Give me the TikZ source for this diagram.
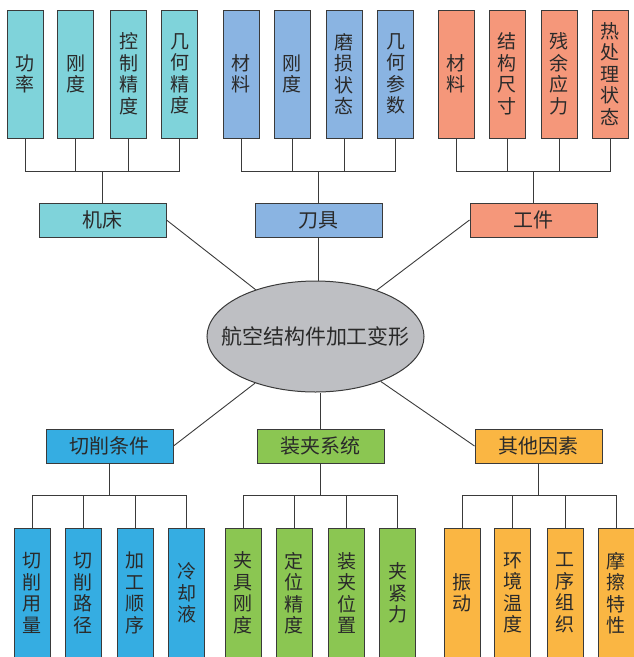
\documentclass[tikz,border=0pt]{standalone}
\usepackage{fontspec}
\newfontfamily\cjk{Noto Sans CJK SC}
\usetikzlibrary{shapes.geometric}
\definecolor{cA}{HTML}{7FD3DA}
\definecolor{cB}{HTML}{8AB4E2}
\definecolor{cC}{HTML}{F5977A}
\definecolor{cD}{HTML}{35ADE2}
\definecolor{cE}{HTML}{8BC652}
\definecolor{cF}{HTML}{FAB643}
\definecolor{cG}{HTML}{BEBFC3}
\definecolor{linec}{HTML}{3A3A3A}
\definecolor{txt}{HTML}{2A2A2A}
\begin{document}
\begin{tikzpicture}[x=1pt,y=-1pt,
  leaf/.style={draw=linec, line width=1pt, minimum width=36pt, inner sep=0pt, align=center,
    font=\cjk\fontsize{19}{21.5}\selectfont, text=txt},
  topleaf/.style={leaf, minimum height=128pt},
  botleaf/.style={leaf, minimum height=130pt},
  cat/.style={draw=linec, line width=1pt, minimum width=127pt, minimum height=34pt, inner sep=0pt,
    font=\cjk\fontsize{20}{20}\selectfont, text=txt},
  conn/.style={draw=linec, line width=0.9pt}]
\useasboundingbox (0,0) rectangle (633,657);

% center
\node[ellipse, draw=linec, line width=1pt, fill=cG, minimum width=217pt, minimum height=111pt,
  inner xsep=-20pt, inner ysep=0pt,
  font=\cjk\fontsize{21}{21}\selectfont, text=txt] (E) at (315.5,336.5) {航空结构件加工变形};

% categories
\node[cat, fill=cA] (jc) at (102.5,220) {机床};
\node[cat, fill=cB] (dj) at (318.5,220) {刀具};
\node[cat, fill=cC] (gj) at (533.5,220) {工件};
\node[cat, fill=cD] (qx) at (109.5,446) {切削条件};
\node[cat, fill=cE] (zj) at (320.5,446) {装夹系统};
\node[cat, fill=cF] (qt) at (538.5,446) {其他因素};

% top leaves
\node[topleaf, fill=cA] (a1) at (25,74) {功\\率};
\node[topleaf, fill=cA] (a2) at (75.5,74) {刚\\度};
\node[topleaf, fill=cA] (a3) at (128.5,74) {控\\制\\精\\度};
\node[topleaf, fill=cA] (a4) at (179.5,74) {几\\何\\精\\度};
\node[topleaf, fill=cB] (b1) at (241,74) {材\\料};
\node[topleaf, fill=cB] (b2) at (292,74) {刚\\度};
\node[topleaf, fill=cB] (b3) at (344,74) {磨\\损\\状\\态};
\node[topleaf, fill=cB] (b4) at (395.5,74) {几\\何\\参\\数};
\node[topleaf, fill=cC] (c1) at (456,74) {材\\料};
\node[topleaf, fill=cC] (c2) at (507,74) {结\\构\\尺\\寸};
\node[topleaf, fill=cC] (c3) at (559,74) {残\\余\\应\\力};
\node[topleaf, fill=cC] (c4) at (610,74) {热\\处\\理\\状\\态};

% bottom leaves
\node[botleaf, fill=cD] (d1) at (32,593) {切\\削\\用\\量};
\node[botleaf, fill=cD] (d2) at (83,593) {切\\削\\路\\径};
\node[botleaf, fill=cD] (d3) at (135,593) {加\\工\\顺\\序};
\node[botleaf, fill=cD] (d4) at (186.5,593) {冷\\却\\液};
\node[botleaf, fill=cE] (e1) at (243,593) {夹\\具\\刚\\度};
\node[botleaf, fill=cE] (e2) at (294,593) {定\\位\\精\\度};
\node[botleaf, fill=cE] (e3) at (346.5,593) {装\\夹\\位\\置};
\node[botleaf, fill=cE] (e4) at (397.5,593) {夹\\紧\\力};
\node[botleaf, fill=cF] (f1) at (462,593) {振\\动};
\node[botleaf, fill=cF] (f2) at (512.5,593) {环\\境\\温\\度};
\node[botleaf, fill=cF] (f3) at (565,593) {工\\序\\组\\织};
\node[botleaf, fill=cF] (f4) at (616,593) {摩\\擦\\特\\性};

% bus points
\coordinate (ja) at (102.5,171);
\coordinate (da) at (318.5,171);
\coordinate (ga) at (533.5,171);
\coordinate (qa) at (109.5,495);
\coordinate (za) at (320.5,495);
\coordinate (ta) at (538.5,495);

% tree connectors
\draw[conn] (jc.north) -- (ja);
\foreach \n in {a1,a2,a3,a4} \draw[conn] (\n.south) |- (ja);
\draw[conn] (dj.north) -- (da);
\foreach \n in {b1,b2,b3,b4} \draw[conn] (\n.south) |- (da);
\draw[conn] (gj.north) -- (ga);
\foreach \n in {c1,c2,c3,c4} \draw[conn] (\n.south) |- (ga);
\draw[conn] (qx.south) -- (qa);
\foreach \n in {d1,d2,d3,d4} \draw[conn] (\n.north) |- (qa);
\draw[conn] (zj.south) -- (za);
\foreach \n in {e1,e2,e3,e4} \draw[conn] (\n.north) |- (za);
\draw[conn] (qt.south) -- (ta);
\foreach \n in {f1,f2,f3,f4} \draw[conn] (\n.north) |- (ta);

% spokes
\draw[conn] (jc.east) -- (E);
\draw[conn] (dj.south) -- (E.north -| dj.south);
\draw[conn] (gj.west) -- (E);
\draw[conn] (qx.east) -- (E);
\draw[conn] (zj.north) -- (E.south -| zj.north);
\draw[conn] (qt.west) -- (E);
\end{tikzpicture}
\end{document}
